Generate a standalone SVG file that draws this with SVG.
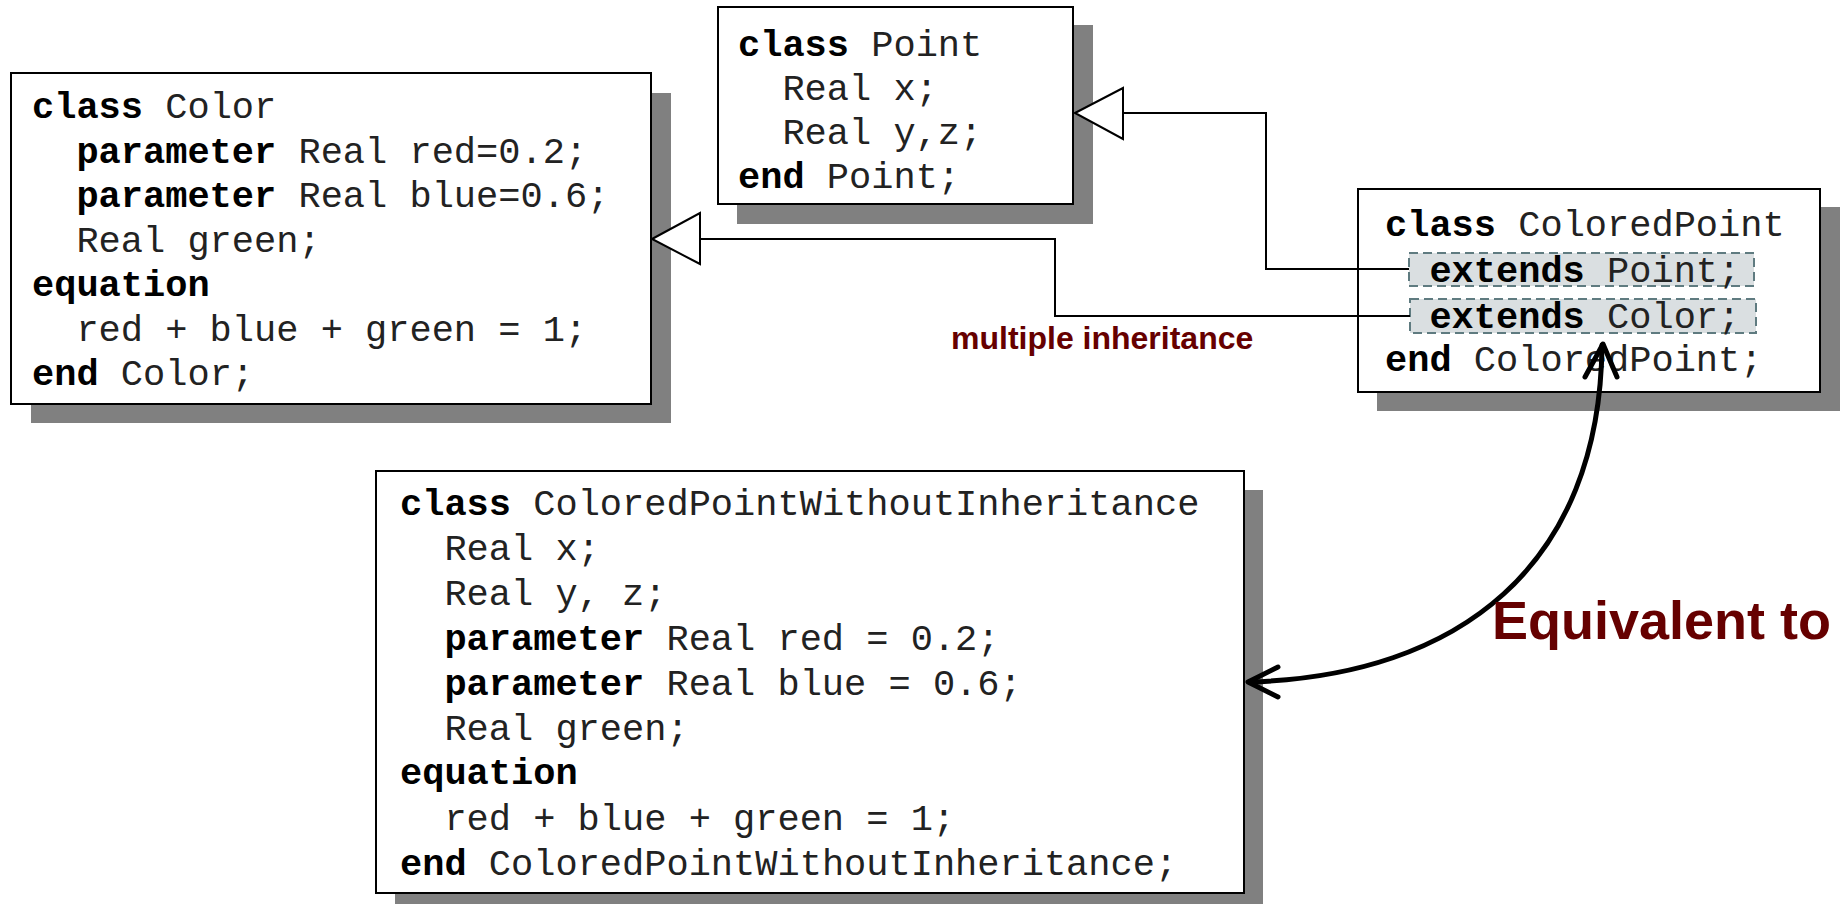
<svg xmlns="http://www.w3.org/2000/svg" width="1842" height="904" viewBox="0 0 1842 904">
<style>
.box{fill:#fff;stroke:#000;stroke-width:2}
.shadow{fill:#808080}
.code{font-family:"Liberation Mono","Courier New",monospace;font-size:37px;fill:#222}
.k{font-weight:bold;fill:#000}
.conn{fill:none;stroke:#000;stroke-width:2}
.tri{fill:#fff;stroke:#000;stroke-width:2}
.ext{fill:#dadfe1;stroke:#5f7b80;stroke-width:2;stroke-dasharray:9 5}
.lbl{font-family:"Liberation Sans",Arial,sans-serif;font-weight:bold;fill:#660000}
.big{fill:none;stroke:#000;stroke-width:5;stroke-linecap:round;stroke-linejoin:round}
</style>
<rect width="1842" height="904" fill="#fff"/>

<g id="node-color">
  <rect class="shadow" x="31" y="93" width="640" height="330"/>
  <rect class="box" x="11" y="73" width="640" height="331"/>
  <text class="code" x="32" y="118"><tspan class="k">class</tspan> Color</text>
  <text class="code" x="76.4" y="162.5"><tspan class="k">parameter</tspan> Real red=0.2;</text>
  <text class="code" x="76.4" y="207"><tspan class="k">parameter</tspan> Real blue=0.6;</text>
  <text class="code" x="76.4" y="251.5">Real green;</text>
  <text class="code k" x="32" y="296">equation</text>
  <text class="code" x="76.4" y="340.5">red + blue + green = 1;</text>
  <text class="code" x="32" y="385"><tspan class="k">end</tspan> Color;</text>
</g>

<g id="node-point">
  <rect class="shadow" x="737" y="25" width="356" height="199"/>
  <rect class="box" x="718" y="7" width="355" height="197"/>
  <text class="code" x="738" y="55.5"><tspan class="k">class</tspan> Point</text>
  <text class="code" x="782.4" y="99.5">Real x;</text>
  <text class="code" x="782.4" y="143.5">Real y,z;</text>
  <text class="code" x="738" y="187.5"><tspan class="k">end</tspan> Point;</text>
</g>

<g id="node-coloredpoint">
  <rect class="shadow" x="1377" y="207" width="463" height="204"/>
  <rect class="box" x="1358" y="189" width="462" height="203"/>
  <rect class="ext" x="1409" y="253" width="345" height="33"/>
  <rect class="ext" x="1410" y="299" width="346" height="34"/>
  <text class="code" x="1385" y="236"><tspan class="k">class</tspan> ColoredPoint</text>
  <text class="code" x="1429.4" y="282" fill="#1e2a2e"><tspan class="k" fill="#1e2a2e">extends</tspan> Point;</text>
  <text class="code" x="1429.4" y="328" fill="#1e2a2e"><tspan class="k" fill="#1e2a2e">extends</tspan> Color;</text>
  <text class="code" x="1385" y="371"><tspan class="k">end</tspan> ColoredPoint;</text>
</g>

<g id="node-coloredpointwithoutinheritance">
  <rect class="shadow" x="395" y="490" width="868" height="420"/>
  <rect class="box" x="376" y="471" width="868" height="422"/>
  <text class="code" x="400" y="515"><tspan class="k">class</tspan> ColoredPointWithoutInheritance</text>
  <text class="code" x="444.4" y="560">Real x;</text>
  <text class="code" x="444.4" y="605">Real y, z;</text>
  <text class="code" x="444.4" y="650"><tspan class="k">parameter</tspan> Real red = 0.2;</text>
  <text class="code" x="444.4" y="695"><tspan class="k">parameter</tspan> Real blue = 0.6;</text>
  <text class="code" x="444.4" y="740">Real green;</text>
  <text class="code k" x="400" y="784">equation</text>
  <text class="code" x="444.4" y="830">red + blue + green = 1;</text>
  <text class="code" x="400" y="875"><tspan class="k">end</tspan> ColoredPointWithoutInheritance;</text>
</g>

<g id="connectors">
  <polyline class="conn" points="1123,113 1266,113 1266,269 1409,269"/>
  <polygon class="tri" points="1075,113 1123,88 1123,139"/>
  <polyline class="conn" points="700,239 1055,239 1055,316 1410,316"/>
  <polygon class="tri" points="652,239 700,213 700,264"/>
  <path class="big" d="M1602,345 C1600,565 1460,676 1249,682"/>
  <polyline class="big" points="1585,377 1603,344 1617,377"/>
  <polyline class="big" points="1278,667 1248,682 1278,697"/>
</g>

<text class="lbl" x="951" y="349" font-size="32">multiple inheritance</text>
<text class="lbl" x="1492" y="639" font-size="54">Equivalent to</text>
</svg>
